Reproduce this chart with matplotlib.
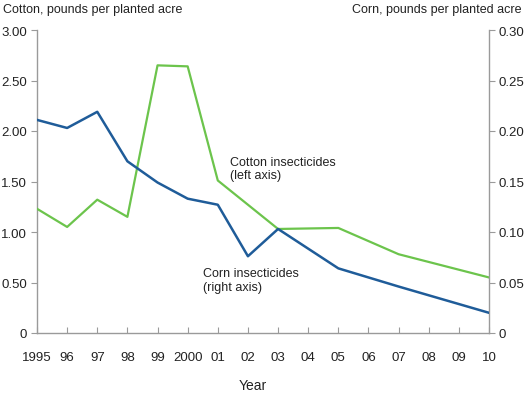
import matplotlib
matplotlib.use("Agg")
import matplotlib.pyplot as plt

plt.rcParams['font.family'] = ['Liberation Sans', 'DejaVu Sans']

years_cotton = [1995, 1996, 1997, 1998, 1999, 2000, 2001, 2003, 2005, 2007, 2010]
cotton = [1.23, 1.05, 1.32, 1.15, 2.65, 2.64, 1.51, 1.03, 1.04, 0.78, 0.55]

years_corn = [1995, 1996, 1997, 1998, 1999, 2000, 2001, 2002, 2003, 2005, 2007, 2010]
corn = [0.211, 0.203, 0.219, 0.170, 0.149, 0.133, 0.127, 0.076, 0.103, 0.064, 0.046, 0.020]

xtick_years = list(range(1995, 2011))
xtick_labels = ['1995', '96', '97', '98', '99', '2000', '01', '02', '03', '04',
                '05', '06', '07', '08', '09', '10']
left_ticks = [0, 0.5, 1.0, 1.5, 2.0, 2.5, 3.0]
left_labels = ['0', '0.50', '1.00', '1.50', '2.00', '2.50', '3.00']
right_ticks = [0, 0.05, 0.10, 0.15, 0.20, 0.25, 0.30]
right_labels = ['0', '0.05', '0.10', '0.15', '0.20', '0.25', '0.30']

green = '#6cc44c'
blue = '#1f5c99'
gray = '#9a9a9a'
txt = '#222222'

fig = plt.figure(figsize=(5.25, 4.06), dpi=100)
ax = fig.add_axes([37/525, 1-334/406, (489-37)/525, (334-31)/406])
ax2 = ax.twinx()

ax.plot(years_cotton, cotton, color=green, lw=1.6, zorder=3)
ax2.plot(years_corn, corn, color=blue, lw=1.8, zorder=3)

ax.set_xlim(1995, 2010)
ax.set_ylim(0, 3.0)
ax2.set_ylim(0, 0.30)

ax.set_xticks(xtick_years)
ax.set_xticklabels(xtick_labels)
ax.set_yticks(left_ticks)
ax.set_yticklabels(left_labels)
ax2.set_yticks(right_ticks)
ax2.set_yticklabels(right_labels)

for a in (ax, ax2):
    a.spines['top'].set_visible(False)
    for s in ('left', 'right', 'bottom'):
        a.spines[s].set_color(gray)
        a.spines[s].set_linewidth(1.0)
ax.spines['right'].set_visible(False)
ax2.spines['left'].set_visible(False)
ax2.spines['bottom'].set_visible(False)

ax.tick_params(axis='y', direction='out', length=4, color=gray, labelsize=9.5,
               labelcolor=txt, pad=3)
ax.tick_params(axis='x', direction='in', length=4, color=gray, labelsize=9.5,
               labelcolor=txt, pad=13)
ax2.tick_params(axis='y', direction='out', length=4, color=gray, labelsize=9.5,
                labelcolor=txt, pad=3)

fig.text(3/525, 1-10/406, 'Cotton, pounds per planted acre', ha='left', va='center',
         fontsize=9, color=txt)
fig.text(522/525, 1-10/406, 'Corn, pounds per planted acre', ha='right', va='center',
         fontsize=9, color=txt)
fig.text(253/525, 1-386/406, 'Year', ha='center', va='center', fontsize=10, color=txt)

ax.text(2001.4, 1.50, 'Cotton insecticides\n(left axis)', ha='left', va='bottom',
        fontsize=9, color=txt, linespacing=1.2)
ax.text(2000.5, 0.40, 'Corn insecticides\n(right axis)', ha='left', va='bottom',
        fontsize=9, color=txt, linespacing=1.2)

fig.savefig('out.png', dpi=100, facecolor='white')
